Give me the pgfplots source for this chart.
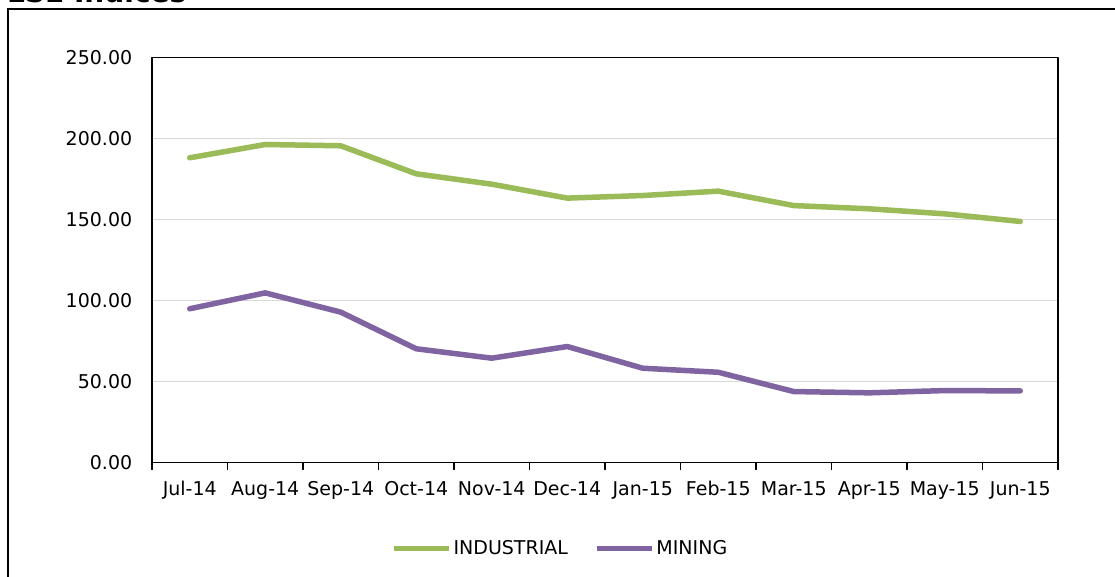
\documentclass[border=0pt]{standalone}
\usepackage{pgfplots}
\pgfplotsset{compat=1.18}
\usepackage{fontspec}
\setmainfont{DejaVu Sans}
\definecolor{cind}{HTML}{9BBB59}
\definecolor{cmin}{HTML}{8064A2}
\definecolor{cgrid}{HTML}{D9D9D9}
\begin{document}
\begin{tikzpicture}
\useasboundingbox (0pt,0pt) rectangle (1115pt,576pt);
\clip (0pt,0pt) rectangle (1115pt,576pt);
\fill[white] (0pt,0pt) rectangle (1115pt,576pt);
\draw[line width=1.3pt] (8pt,-10pt) rectangle (1130pt,567pt);
\node[anchor=base west, inner sep=0pt, font=\fontsize{28}{32}\selectfont\bfseries] at (7pt,573pt) {LSE Indices};
\begin{axis}[
  scale only axis,
  width=906pt, height=405pt,
  at={(152pt,113.5pt)}, anchor=south west,
  xmin=-0.5, xmax=11.5,
  ymin=0, ymax=250,
  ytick={0,50,...,250},
  xtick={0,...,11},
  xticklabels={Jul-14,Aug-14,Sep-14,Oct-14,Nov-14,Dec-14,Jan-15,Feb-15,Mar-15,Apr-15,May-15,Jun-15},
  minor xtick={-0.5,0.5,...,11.5},
  xtick pos=bottom, ytick pos=left,
  tick align=outside,
  major x tick style={draw=none},
  minor x tick style={black, line width=1.3pt},
  minor tick length=7pt,
  major y tick style={draw=none},
  ymajorgrids,
  grid style={cgrid, line width=1.5pt},
  axis line style={black, line width=1.3pt},
  tick label style={font=\fontsize{19}{23}\selectfont},
  /pgf/number format/assume math mode=true,
  yticklabel={\pgfmathprintnumber[fixed, fixed zerofill, precision=2]{\tick}},
  xticklabel style={yshift=-11pt},
  yticklabel style={xshift=-12pt},
  legend columns=2,
  legend style={draw=none, fill=none, at={(0.4505,-0.212)}, anchor=center,
    font=\fontsize{19}{23}\selectfont, inner sep=0pt,
    nodes={inner sep=2pt},
    /tikz/every even column/.append style={column sep=24pt}},
  legend image code/.code={\draw[#1, line width=5.5pt] (0pt,0pt) -- (55pt,0pt);},
  line cap=round, line join=round,
]
\addplot[cind, line width=5.5pt] coordinates {
(0,188.1) (1,196.3) (2,195.5) (3,178.2) (4,171.8) (5,163.2)
(6,164.8) (7,167.5) (8,158.6) (9,156.6) (10,153.5) (11,148.8)};
\addlegendentry{INDUSTRIAL}
\addplot[cmin, line width=5.5pt] coordinates {
(0,94.9) (1,104.7) (2,92.8) (3,70.2) (4,64.4) (5,71.6)
(6,58.2) (7,55.7) (8,43.8) (9,43.0) (10,44.4) (11,44.2)};
\addlegendentry{MINING}
\end{axis}
\end{tikzpicture}
\end{document}
